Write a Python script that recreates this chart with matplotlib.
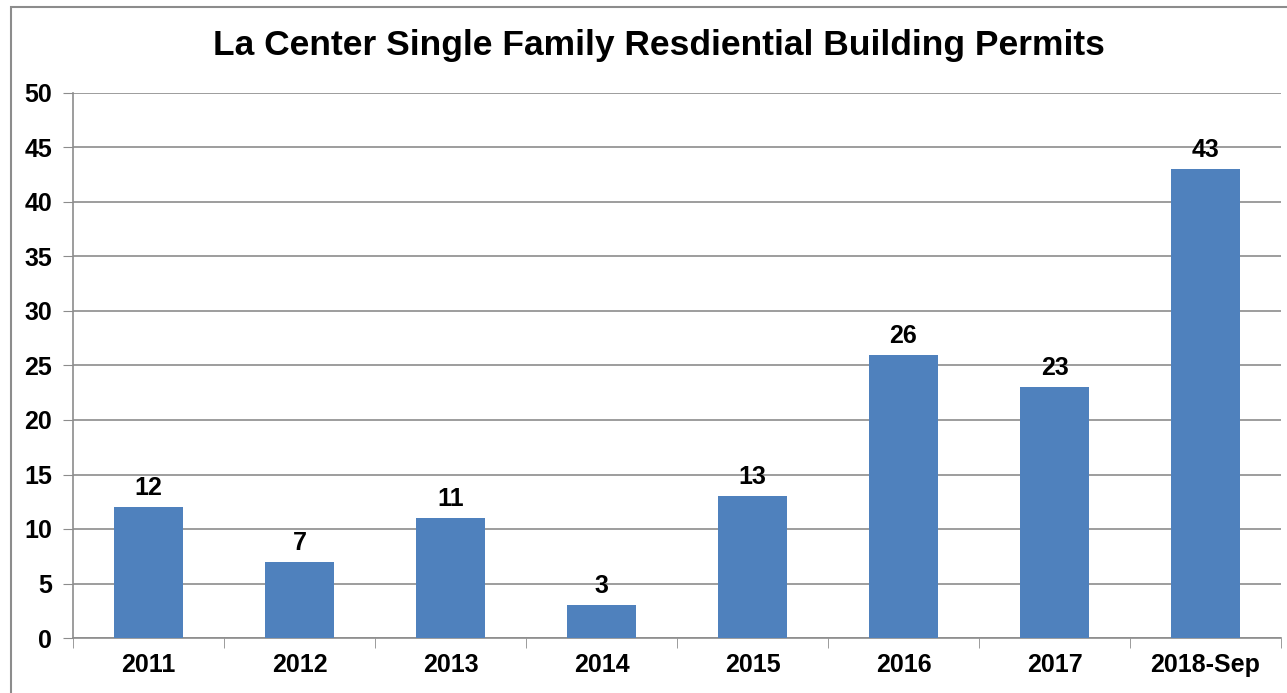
import matplotlib

matplotlib.use("Agg")
import matplotlib.pyplot as plt  # noqa: E402
from matplotlib.patches import Rectangle  # noqa: E402

categories = ["2011", "2012", "2013", "2014", "2015", "2016", "2017", "2018-Sep"]
permits = [12, 7, 11, 3, 13, 26, 23, 43]
y_ticks = [0, 5, 10, 15, 20, 25, 30, 35, 40, 45, 50]

BAR = "#4F81BD"
GRID = "#8C8C8C"

plt.rcParams["font.family"] = ["Liberation Sans", "DejaVu Sans"]

fig = plt.figure(figsize=(12.87, 6.93), dpi=100)
ax = fig.add_axes([73 / 1287, 1 - 638 / 693, (1281 - 73) / 1287, (638 - 93) / 693])

x = list(range(len(categories)))
ax.bar(x, permits, width=0.46, color=BAR, zorder=3)
for xi, v in zip(x, permits):
    ax.annotate(str(v), (xi, v), xytext=(0, 5), textcoords="offset points",
                ha="center", va="bottom", fontsize=18, fontweight="bold", zorder=4)

ax.set_xlim(-0.5, len(categories) - 0.5)
ax.set_ylim(0, 50)
ax.set_yticks(y_ticks)
ax.set_yticklabels([str(t) for t in y_ticks], fontsize=18, fontweight="bold")
ax.set_xticks(x)
ax.set_xticklabels(categories, fontsize=18, fontweight="bold")
ax.tick_params(axis="x", length=0, pad=11)
ax.tick_params(axis="y", length=7, color=GRID, pad=8)
# category separator ticks on the x axis
ax.set_xticks([i - 0.5 for i in range(len(categories) + 1)], minor=True)
ax.tick_params(axis="x", which="minor", length=7, color=GRID)
ax.grid(axis="y", color=GRID, linewidth=1.2, zorder=0)
for s in ("top", "right"):
    ax.spines[s].set_visible(False)
for s in ("left", "bottom"):
    ax.spines[s].set_color(GRID)
    ax.spines[s].set_linewidth(1.2)

fig.text(659 / 1287, 1 - 45 / 693, "La Center Single Family Resdiential Building Permits",
         ha="center", va="center", fontsize=25.5, fontweight="bold")

fig.patches.append(Rectangle((11 / 1287, -0.05), 1.1, 1 - 7 / 693 + 0.05,
                             transform=fig.transFigure, fill=False,
                             edgecolor="#8C8C8C", linewidth=1.5))

fig.savefig("out.png", dpi=100)
